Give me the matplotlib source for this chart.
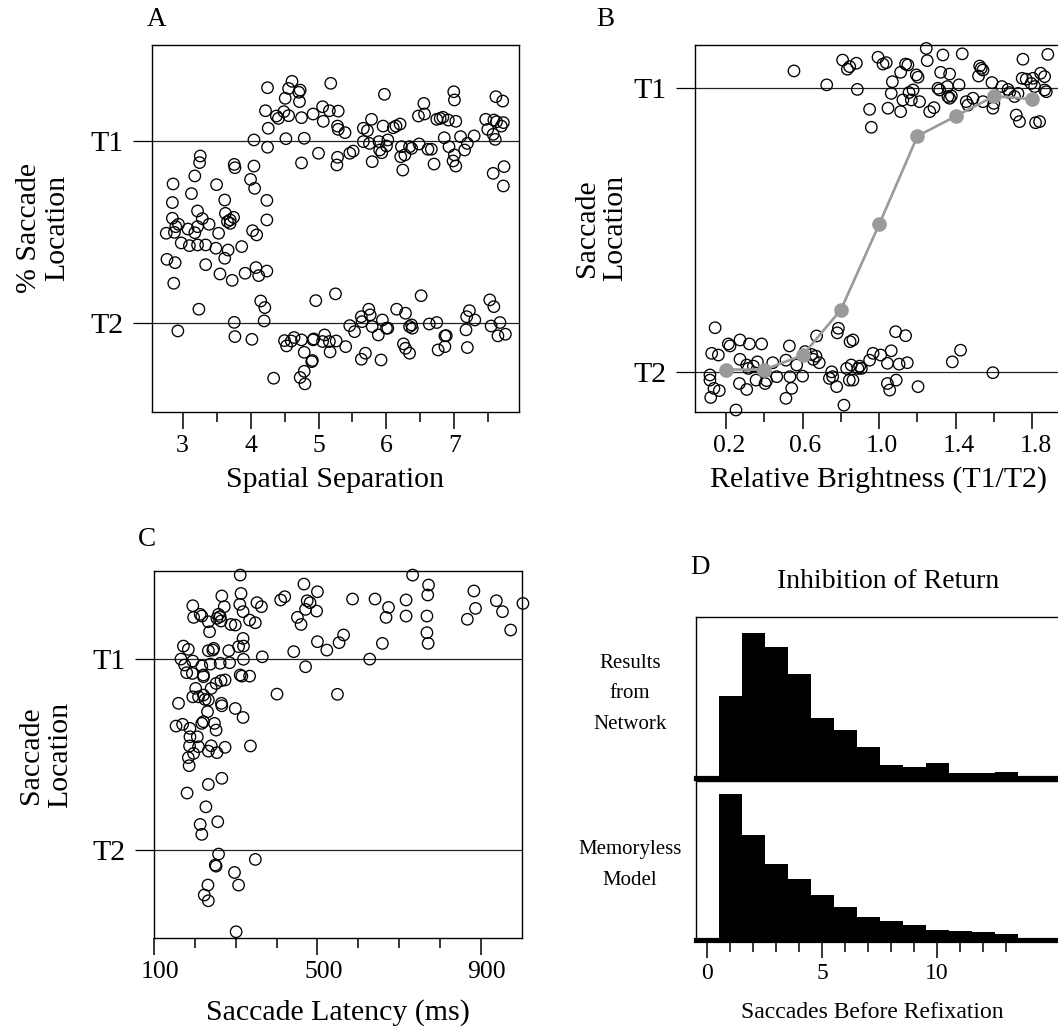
import matplotlib
matplotlib.use("Agg")
import matplotlib.pyplot as plt
from matplotlib.transforms import ScaledTranslation

plt.rcParams['font.family'] = ['Liberation Serif', 'DejaVu Serif']

# ---------------- data ----------------
# Panel A: spatial separation vs saccade location (T2 = 0, T1 = 1)
a_sep = [4.25,4.61,4.56,4.73,4.71,4.51,4.72,5.18,4.22,4.38,4.41,4.49,4.56,4.75,4.92,5.06,5.07,5.16,5.29,4.26,5.28,5.29,4.05,4.52,4.79,4.25,5.00,4.75,5.28,5.27,
         3.26,3.25,2.86,3.18,3.50,3.76,3.77,4.05,4.00,4.06,4.24,3.13,2.85,3.62,3.22,3.29,2.85,2.94,2.90,2.88,2.76,3.08,3.22,3.18,3.39,3.63,3.70,3.66,3.75,3.70,3.53,4.24,4.03,4.09,2.98,3.10,3.22,3.34,3.49,3.67,3.87,3.62,2.77,2.89,3.34,3.55,3.73,3.92,4.08,4.24,4.12,2.87,4.15,4.21,4.20,3.24,4.96,5.25,
         2.93,3.76,3.77,4.02,4.50,4.53,4.60,4.64,4.75,4.92,4.93,5.09,5.06,5.17,5.16,5.26,4.79,4.91,4.90,4.79,4.73,4.80,4.34,
         5.39,5.46,5.51,5.79,5.66,5.75,5.66,5.72,5.78,5.97,5.95,5.89,5.90,5.93,6.02,6.00,6.10,6.14,6.20,6.22,6.21,6.24,6.27,6.34,6.37,6.48,6.47,6.55,6.56,6.61,6.66,6.70,6.74,6.79,6.83,6.91,7.02,6.85,6.92,6.99,7.00,7.00,6.98,7.02,7.09,7.15,7.19,7.29,7.46,7.49,7.58,7.62,7.61,7.71,7.57,7.60,7.69,7.72,7.57,7.73,7.72,
         5.46,5.53,5.63,5.64,5.74,5.76,5.79,5.88,5.94,6.00,6.02,6.15,6.28,6.34,6.37,6.38,6.25,6.28,6.34,6.51,6.63,6.74,6.76,6.86,6.86,6.88,7.18,7.22,7.30,7.17,7.19,7.52,7.58,7.54,7.67,7.64,7.75,5.92,5.63,5.69,5.40]
a_loc = [1.29,1.325,1.286,1.277,1.265,1.232,1.214,1.314,1.164,1.135,1.122,1.159,1.137,1.126,1.146,1.186,1.106,1.164,1.162,1.068,1.080,1.062,1.004,1.011,1.013,0.964,0.931,0.878,0.909,0.867,
         0.916,0.880,0.763,0.807,0.759,0.870,0.852,0.861,0.788,0.739,0.673,0.710,0.661,0.675,0.615,0.573,0.575,0.542,0.529,0.498,0.493,0.516,0.529,0.496,0.542,0.602,0.566,0.557,0.580,0.547,0.493,0.566,0.507,0.484,0.440,0.425,0.429,0.429,0.411,0.401,0.420,0.356,0.350,0.332,0.321,0.270,0.235,0.274,0.305,0.286,0.261,0.219,0.122,0.086,0.013,0.077,0.124,0.161,
         -0.042,0.005,-0.073,-0.088,-0.095,-0.124,-0.097,-0.078,-0.091,-0.091,-0.086,-0.064,-0.100,-0.157,-0.100,-0.097,-0.159,-0.204,-0.210,-0.263,-0.297,-0.332,-0.301,
         1.044,0.931,0.943,0.885,0.995,0.985,1.068,1.055,1.117,1.254,1.080,0.995,0.949,0.934,1.004,0.971,1.071,1.080,1.091,0.967,0.912,0.839,0.922,0.967,0.958,0.982,1.135,1.204,1.146,0.953,0.953,0.872,1.117,1.122,1.128,1.113,1.106,1.016,0.967,1.268,1.223,0.922,0.889,0.861,1.022,0.949,0.985,1.026,1.117,1.062,1.113,1.104,1.241,1.217,1.035,1.007,1.080,1.099,0.821,0.858,0.752,
         -0.013,-0.046,0.036,0.009,0.077,0.046,-0.018,-0.064,0.018,-0.027,-0.027,0.077,0.055,-0.018,-0.009,-0.027,-0.113,-0.137,-0.164,0.151,-0.004,0.004,-0.146,-0.069,-0.128,-0.068,0.036,0.069,0.018,-0.036,-0.133,0.128,0.091,-0.015,0.004,-0.069,-0.060,-0.201,-0.197,-0.164,-0.128]

# Panel B: relative brightness vs saccade location
b_bright = [0.555,0.726,0.809,0.834,
            0.143,0.125,0.160,0.212,0.221,0.273,0.322,0.386,0.531,0.673,0.787,0.781,0.116,0.116,0.137,0.165,0.120,0.252,0.270,0.308,0.273,0.308,0.317,0.343,0.357,0.364,0.404,0.412,0.444,0.465,0.513,0.534,0.543,0.513,0.569,0.600,0.613,0.647,0.656,0.670,0.687,0.752,0.757,0.740,0.778,0.830,0.844,0.848,0.816,
            0.846,0.881,0.886,0.994,1.020,1.037,1.069,1.112,1.063,1.138,1.150,1.124,1.156,1.177,1.168,1.194,1.203,1.211,1.246,1.251,1.333,1.321,1.368,1.356,1.307,1.316,1.359,1.368,1.377,1.417,1.434,1.455,1.464,1.490,1.525,1.533,1.542,1.519,1.542,1.589,1.594,1.599,1.641,1.673,1.681,1.707,1.725,1.751,1.747,1.768,1.794,1.803,1.812,1.843,1.864,1.864,1.881,1.873,0.950,0.959,1.046,1.112,1.264,1.286,1.716,1.733,1.817,1.838,
            0.863,0.854,0.863,0.889,0.898,0.907,0.950,0.968,1.008,1.063,1.086,1.138,1.043,1.104,1.147,1.043,1.055,1.089,1.203,1.382,1.425,1.594]
b_loc = [1.059,1.010,1.097,1.065,
         0.157,0.067,0.061,0.100,0.093,0.114,0.100,0.100,0.093,0.128,0.155,0.139,-0.009,-0.027,-0.056,-0.064,-0.088,-0.132,-0.039,-0.060,0.046,0.026,0.014,0.022,-0.027,0.037,-0.039,-0.029,0.034,-0.015,0.043,-0.015,-0.056,-0.091,0.026,-0.013,0.073,0.063,0.046,0.057,0.034,0.002,-0.015,-0.021,-0.050,0.014,-0.027,0.108,-0.115,
         1.074,1.086,0.994,1.107,1.083,1.088,1.021,1.054,0.980,1.083,1.080,0.957,0.983,0.992,0.957,1.045,1.037,0.951,1.138,1.095,1.115,1.054,1.048,1.004,0.998,0.992,0.969,0.963,0.971,1.010,1.119,0.951,0.939,0.963,1.076,1.068,1.062,1.041,0.951,1.018,0.928,0.945,1.004,0.994,0.983,0.969,0.980,1.100,1.033,1.030,1.015,1.033,1.004,1.051,1.039,0.992,1.117,0.986,0.924,0.861,0.928,0.916,0.916,0.930,0.904,0.881,0.877,0.881,
         0.114,0.026,-0.027,0.014,0.022,0.014,0.043,0.067,0.061,0.076,0.143,0.129,0.032,0.029,0.034,-0.039,-0.062,-0.027,-0.050,0.037,0.078,-0.001]
b_mean_x = [0.2, 0.4, 0.6, 0.8, 1.0, 1.2, 1.4, 1.6, 1.8]
b_mean_y = [0.01, 0.01, 0.06, 0.22, 0.52, 0.83, 0.90, 0.97, 0.96]

# Panel C: saccade latency vs saccade location
c_lat = [311,467,500,313,266,195,272,310,318,352,363,410,420,475,482,471,498,197,213,217,
         233,236,254,262,264,258,288,299,334,348,451,460,172,184,166,175,195,180,194,217,
         221,221,238,233,246,244,262,283,285,307,318,319,319,311,315,334,365,442,471,500,
         523,553,564,202,195,209,221,225,233,240,252,264,274,265,266,160,299,318,231,401,
         549,154,170,188,217,221,248,252,188,206,187,209,197,233,240,254,274,336,184,186,
         181,233,266,227,213,217,256,258,252,250,348,297,307,232,223,233,301,
         733,772,770,586,641,674,668,717,717,768,768,771,883,887,867,938,953,973,1003,659,628]
c_loc = [1.437,1.390,1.350,1.341,1.328,1.277,1.272,1.284,1.246,1.293,1.272,1.307,1.324,1.303,1.293,1.258,1.249,1.216,1.232,1.223,
         1.193,1.141,1.211,1.220,1.197,1.232,1.179,1.176,1.202,1.188,1.216,1.179,1.066,1.049,0.998,0.967,0.988,0.927,0.923,0.962,
         0.915,0.906,0.972,1.042,1.054,1.045,0.976,1.042,0.979,1.063,1.106,1.066,0.997,0.915,0.909,0.909,1.010,1.037,0.958,1.089,
         1.045,1.084,1.124,0.845,0.801,0.801,0.810,0.787,0.784,0.845,0.871,0.885,0.889,0.767,0.754,0.767,0.740,0.693,0.723,0.815,
         0.814,0.648,0.657,0.636,0.662,0.671,0.662,0.627,0.592,0.592,0.544,0.540,0.505,0.517,0.545,0.509,0.537,0.544,0.483,0.441,
         0.298,0.343,0.375,0.226,0.134,0.082,0.148,-0.021,-0.084,-0.078,-0.049,-0.117,-0.183,-0.183,-0.235,-0.265,-0.427,
         1.437,1.385,1.333,1.312,1.312,1.268,1.216,1.307,1.223,1.223,1.136,1.080,1.354,1.263,1.206,1.303,1.246,1.150,1.289,1.080,0.998]

# Panel D: histograms of saccades before refixation (relative frequency)
d_bins = [1, 2, 3, 4, 5, 6, 7, 8, 9, 10, 11, 12, 13]
d_network = [0.125, 0.220, 0.199, 0.158, 0.091, 0.073, 0.047, 0.020, 0.017, 0.023, 0.008, 0.008, 0.010]
d_memoryless = [0.262, 0.189, 0.137, 0.110, 0.081, 0.059, 0.042, 0.034, 0.027, 0.018, 0.016, 0.014, 0.010]

# ---------------- figure ----------------
W, H = 1058, 1030
fig = plt.figure(figsize=(W / 100, H / 100), dpi=100)
PT = 0.72  # points per pixel

def add_ax(l, t, r, b):
    return fig.add_axes([l / W, 1 - b / H, (r - l) / W, (b - t) / H])

LABEL_FS = 21.5
TICK_FS = 18.5
TLAB_FS = 21.5

def shift_xlabels(ax, dx_px):
    off = ScaledTranslation(dx_px / 100, 0, fig.dpi_scale_trans)
    for lab in ax.get_xticklabels():
        lab.set_transform(lab.get_transform() + off)

def scatter_panel(ax, x, y, xlim, ylim):
    ax.set_xlim(*xlim)
    ax.set_ylim(*ylim)
    ax.scatter(x, y, s=68, facecolors='none', edgecolors='black',
               linewidths=0.95, clip_on=False, zorder=3)
    ax.axhline(0, color='#222222', lw=0.9, zorder=1)
    ax.axhline(1, color='#222222', lw=0.9, zorder=1)
    ax.set_yticks([0, 1])
    ax.set_yticklabels(['T2', 'T1'], fontsize=TLAB_FS)
    ax.tick_params(axis='y', length=19 * PT, width=0.9, pad=9 * PT)
    ax.tick_params(axis='x', which='major', length=17 * PT, width=1.1,
                   labelsize=TICK_FS, pad=6 * PT)
    ax.tick_params(axis='x', which='minor', length=10 * PT, width=1.1)
    for s in ax.spines.values():
        s.set_linewidth(1.0)

# Panel A
axA = add_ax(152, 45, 519, 412)
scatter_panel(axA, a_sep, a_loc, (2.55, 7.95), (-0.486, 1.524))
axA.set_xticks([3, 4, 5, 6, 7])
axA.set_xticklabels(['3', '4', '5', '6', '7'])
axA.set_xticks([3.5, 4.5, 5.5, 6.5, 7.5], minor=True)
fig.text(335 / W, 1 - 480 / H, 'Spatial Separation', ha='center', va='center', fontsize=LABEL_FS)
fig.text(43 / W, 1 - 228 / H, '% Saccade\nLocation', ha='center', va='center',
         rotation=90, fontsize=LABEL_FS, linespacing=1.15, multialignment='center')
fig.text(157 / W, 1 - 20 / H, 'A', ha='center', va='center', fontsize=19.5)

# Panel B
axB = add_ax(695, 45, 1062, 411.7)
scatter_panel(axB, b_bright, b_loc, (0.038, 1.955), (-0.138, 1.150))
axB.plot(b_mean_x, b_mean_y, color='#9a9a9a', lw=1.9, marker='o', markersize=9.5,
         markerfacecolor='#9a9a9a', markeredgecolor='#9a9a9a', zorder=4, clip_on=False)
axB.set_xticks([0.2, 0.6, 1.0, 1.4, 1.8])
axB.set_xticklabels(['0.2', '0.6', '1.0', '1.4', '1.8'])
axB.set_xticks([0.4, 0.8, 1.2, 1.6], minor=True)
shift_xlabels(axB, 3)
fig.text(878 / W, 1 - 480 / H, 'Relative Brightness (T1/T2)', ha='center', va='center', fontsize=LABEL_FS)
fig.text(601 / W, 1 - 228 / H, 'Saccade\nLocation', ha='center', va='center',
         rotation=90, fontsize=LABEL_FS, linespacing=1.15, multialignment='center')
fig.text(605 / W, 1 - 20 / H, 'B', ha='center', va='center', fontsize=19.5)

# Panel C
axC = add_ax(154, 570.7, 521.7, 937.7)
scatter_panel(axC, c_lat, c_loc, (100, 1000), (-0.458, 1.460))
axC.set_xticks([100, 500, 900])
axC.set_xticklabels(['100', '500', '900'])
axC.set_xticks([200, 300, 400, 600, 700, 800], minor=True)
shift_xlabels(axC, 6)
fig.text(338 / W, 1 - 1013 / H, 'Saccade Latency (ms)', ha='center', va='center', fontsize=LABEL_FS)
fig.text(46 / W, 1 - 755 / H, 'Saccade\nLocation', ha='center', va='center',
         rotation=90, fontsize=LABEL_FS, linespacing=1.15, multialignment='center')
fig.text(147 / W, 1 - 540 / H, 'C', ha='center', va='center', fontsize=19.5)

# Panel D
def hist_panel(ax, heights, ytop):
    ax.bar(d_bins, heights, width=1.0, color='black', edgecolor='black', linewidth=0)
    ax.set_xlim(-0.49, 15.47)
    ax.set_ylim(0, ytop)
    ax.axhline(0, color='black', lw=5.2 * PT, clip_on=False, zorder=5)
    ax.spines['bottom'].set_visible(False)
    ax.spines['right'].set_visible(False)
    for s in ('left', 'top'):
        ax.spines[s].set_linewidth(1.0)
    ax.set_yticks([])

axD1 = add_ax(696, 616.7, 1063, 778.3)
hist_panel(axD1, d_network, 0.245)
axD1.set_xticks([])

axD2 = add_ax(696, 780.7, 1063, 940)
hist_panel(axD2, d_memoryless, 0.2863)
axD2.set_xticks([0, 5, 10])
axD2.set_xticklabels(['0', '5', '10'])
axD2.set_xticks([1, 2, 3, 4, 6, 7, 8, 9, 11, 12, 13], minor=True)
axD2.tick_params(axis='x', which='major', length=18 * PT, width=1.1, labelsize=17, pad=5 * PT)
axD2.tick_params(axis='x', which='minor', length=12 * PT, width=1.1)

fig.text(700 / W, 1 - 568 / H, 'D', ha='center', va='center', fontsize=19.5)
fig.text(888 / W, 1 - 582 / H, 'Inhibition of Return', ha='center', va='center', fontsize=20)
fig.text(630 / W, 1 - 694 / H, 'Results\nfrom\nNetwork', ha='center', va='center',
         fontsize=15, linespacing=1.85)
fig.text(630 / W, 1 - 865 / H, 'Memoryless\nModel', ha='center', va='center',
         fontsize=15, linespacing=1.85)
fig.text(872 / W, 1 - 1013 / H, 'Saccades Before Refixation', ha='center', va='center', fontsize=17)

fig.savefig('out.png', dpi=100)
